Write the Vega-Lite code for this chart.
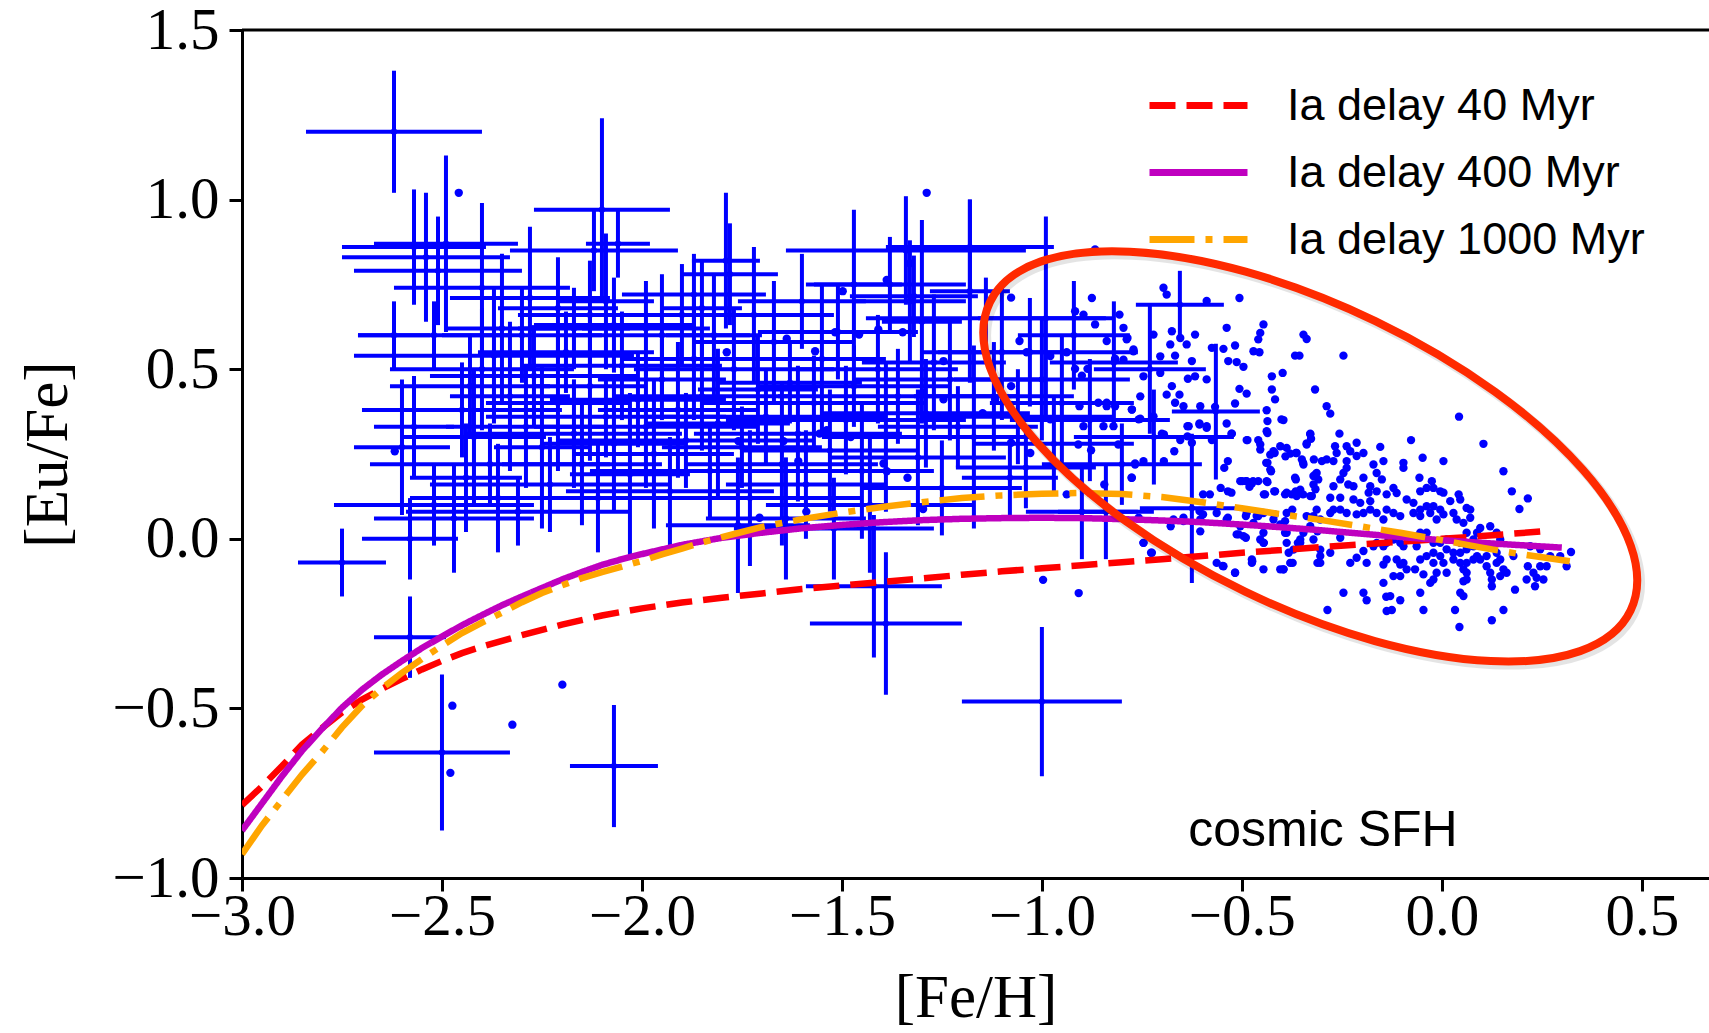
{
"$schema": "https://vega.github.io/schema/vega-lite/v6.json",
"width": 1467, "height": 848,
"autosize": {"type": "none"},
"padding": {"left": 242, "top": 30, "right": 0, "bottom": 155},
"background": "white",
"config": {
 "view": {"stroke": null},
 "axis": {"labelFont": "Liberation Serif", "labelFontSize": 59, "labelColor": "black", "tickColor": "black", "tickSize": 13, "tickWidth": 3, "domainColor": "black", "domainWidth": 3, "grid": false, "titleFont": "Liberation Serif", "titleFontSize": 61, "titleFontWeight": "normal", "titleColor": "black", "labelFlush": false, "labelOverlap": false, "labelBound": false}
},
"datasets": {
"stars": [
{"x":-2.62,"y":1.20,"ex":0.22,"ey":0.18},{"x":-2.10,"y":0.97,"ex":0.17,"ey":0.27},{"x":-2.75,"y":-0.07,"ex":0.11,"ey":0.10},{"x":-2.50,"y":-0.63,"ex":0.17,"ey":0.23},{"x":-2.07,"y":-0.67,"ex":0.11,"ey":0.18},{"x":-2.58,"y":-0.29,"ex":0.09,"ey":0.12},{"x":-1.39,"y":-0.25,"ex":0.19,"ey":0.21},{"x":-1.42,"y":-0.14,"ex":0.17,"ey":0.21},{"x":-1.00,"y":-0.48,"ex":0.20,"ey":0.22},
{"x":-2.57,"y":0.86,"ex":0.18,"ey":0.17},{"x":-2.54,"y":0.83,"ex":0.21,"ey":0.19},{"x":-2.51,"y":0.79,"ex":0.21,"ey":0.16},{"x":-2.49,"y":0.87,"ex":0.18,"ey":0.26},{"x":-2.40,"y":0.74,"ex":0.22,"ey":0.25},{"x":-2.12,"y":0.85,"ex":0.21,"ey":0.12},{"x":-2.06,"y":0.87,"ex":0.08,"ey":0.10},{"x":-2.62,"y":0.60,"ex":0.09,"ey":0.10},{"x":-2.37,"y":0.54,"ex":0.35,"ey":0.20},{"x":-2.40,"y":0.50,"ex":0.23,"ey":0.18},{"x":-2.57,"y":0.33,"ex":0.10,"ey":0.15},{"x":-2.28,"y":0.71,"ex":0.20,"ey":0.21},{"x":-2.21,"y":0.68,"ex":0.15,"ey":0.15},{"x":-2.17,"y":0.62,"ex":0.14,"ey":0.12},{"x":-2.13,"y":0.66,"ex":0.18,"ey":0.16},{"x":-2.09,"y":0.70,"ex":0.12,"ey":0.20},{"x":-2.07,"y":0.63,"ex":0.20,"ey":0.14},{"x":-1.99,"y":0.62,"ex":0.16,"ey":0.14},{"x":-1.95,"y":0.60,"ex":0.22,"ey":0.18},{"x":-1.90,"y":0.66,"ex":0.14,"ey":0.15},{"x":-1.87,"y":0.72,"ex":0.18,"ey":0.12},{"x":-1.85,"y":0.68,"ex":0.10,"ey":0.14},
{"x":-2.45,"y":0.38,"ex":0.25,"ey":0.14},{"x":-2.42,"y":0.30,"ex":0.18,"ey":0.20},{"x":-2.38,"y":0.22,"ex":0.30,"ey":0.12},{"x":-2.36,"y":0.12,"ex":0.22,"ey":0.16},{"x":-2.33,"y":0.42,"ex":0.15,"ey":0.22},{"x":-2.31,"y":0.08,"ex":0.28,"ey":0.10},{"x":-2.29,"y":0.33,"ex":0.20,"ey":0.18},{"x":-2.27,"y":0.48,"ex":0.26,"ey":0.15},{"x":-2.25,"y":0.27,"ex":0.12,"ey":0.24},{"x":-2.23,"y":0.16,"ex":0.30,"ey":0.14},{"x":-2.21,"y":0.40,"ex":0.18,"ey":0.20},{"x":-2.19,"y":0.55,"ex":0.22,"ey":0.12},{"x":-2.17,"y":0.31,"ex":0.27,"ey":0.16},{"x":-2.15,"y":0.22,"ex":0.20,"ey":0.18},{"x":-2.13,"y":0.45,"ex":0.14,"ey":0.22},{"x":-2.11,"y":0.12,"ex":0.24,"ey":0.16},{"x":-2.09,"y":0.36,"ex":0.30,"ey":0.12},{"x":-2.07,"y":0.28,"ex":0.18,"ey":0.20},{"x":-2.05,"y":0.51,"ex":0.25,"ey":0.16},{"x":-2.03,"y":0.19,"ex":0.15,"ey":0.24},{"x":-2.01,"y":0.41,"ex":0.22,"ey":0.14},{"x":-1.99,"y":0.33,"ex":0.28,"ey":0.18},{"x":-1.97,"y":0.25,"ex":0.20,"ey":0.22},{"x":-1.95,"y":0.47,"ex":0.16,"ey":0.12},{"x":-1.93,"y":0.14,"ex":0.26,"ey":0.16},{"x":-1.91,"y":0.38,"ex":0.20,"ey":0.20},{"x":-1.89,"y":0.29,"ex":0.32,"ey":0.14},{"x":-1.87,"y":0.53,"ex":0.18,"ey":0.18},{"x":-2.30,"y":0.60,"ex":0.20,"ey":0.14},{"x":-2.44,"y":0.18,"ex":0.14,"ey":0.16},{"x":-2.52,"y":0.10,"ex":0.25,"ey":0.12},{"x":-2.58,"y":0.00,"ex":0.12,"ey":0.12},{"x":-2.52,"y":0.60,"ex":0.19,"ey":0.10},{"x":-2.43,"y":0.45,"ex":0.20,"ey":0.15},{"x":-2.60,"y":0.27,"ex":0.12,"ey":0.20},{"x":-2.47,"y":0.06,"ex":0.20,"ey":0.16},{"x":-2.35,"y":0.62,"ex":0.14,"ey":0.22},
{"x":-1.85,"y":0.42,"ex":0.22,"ey":0.16},{"x":-1.83,"y":0.20,"ex":0.30,"ey":0.14},{"x":-1.81,"y":0.34,"ex":0.18,"ey":0.22},{"x":-1.79,"y":0.82,"ex":0.085,"ey":0.20},{"x":-1.78,"y":0.78,"ex":0.12,"ey":0.15},{"x":-1.77,"y":0.50,"ex":0.25,"ey":0.18},{"x":-1.75,"y":0.27,"ex":0.20,"ey":0.12},{"x":-1.73,"y":0.12,"ex":0.28,"ey":0.20},{"x":-1.71,"y":0.44,"ex":0.15,"ey":0.16},{"x":-1.69,"y":0.36,"ex":0.30,"ey":0.14},{"x":-1.67,"y":0.58,"ex":0.20,"ey":0.18},{"x":-1.65,"y":0.22,"ex":0.24,"ey":0.24},{"x":-1.63,"y":0.46,"ex":0.18,"ey":0.12},{"x":-1.61,"y":0.31,"ex":0.26,"ey":0.20},{"x":-1.59,"y":0.16,"ex":0.20,"ey":0.16},{"x":-1.57,"y":0.40,"ex":0.28,"ey":0.14},{"x":-1.55,"y":0.53,"ex":0.16,"ey":0.22},{"x":-1.53,"y":0.26,"ex":0.22,"ey":0.18},{"x":-1.51,"y":0.61,"ex":0.20,"ey":0.14},{"x":-1.49,"y":0.35,"ex":0.30,"ey":0.16},{"x":-1.47,"y":0.75,"ex":0.12,"ey":0.22},{"x":-1.47,"y":0.45,"ex":0.24,"ey":0.12},{"x":-1.45,"y":0.20,"ex":0.18,"ey":0.20},{"x":-1.43,"y":0.10,"ex":0.26,"ey":0.20},{"x":-1.41,"y":0.50,"ex":0.20,"ey":0.16},{"x":-1.39,"y":0.30,"ex":0.16,"ey":0.22},{"x":-1.38,"y":0.75,"ex":0.19,"ey":0.14},{"x":-1.36,"y":0.42,"ex":0.30,"ey":0.14},{"x":-1.34,"y":0.85,"ex":0.30,"ey":0.16},{"x":-1.33,"y":0.70,"ex":0.14,"ey":0.18},{"x":-1.32,"y":0.715,"ex":0.16,"ey":0.12},{"x":-1.31,"y":0.24,"ex":0.22,"ey":0.20},{"x":-1.30,"y":0.64,"ex":0.10,"ey":0.30},{"x":-1.29,"y":0.37,"ex":0.26,"ey":0.16},{"x":-1.27,"y":0.52,"ex":0.18,"ey":0.20},{"x":-1.25,"y":0.15,"ex":0.20,"ey":0.14},{"x":-1.23,"y":0.47,"ex":0.24,"ey":0.18},{"x":-1.21,"y":0.33,"ex":0.20,"ey":0.12},{"x":-1.82,"y":0.60,"ex":0.12,"ey":0.18},{"x":-1.72,"y":0.66,"ex":0.20,"ey":0.20},{"x":-1.60,"y":0.70,"ex":0.16,"ey":0.14},{"x":-1.64,"y":0.06,"ex":0.20,"ey":0.18},{"x":-1.52,"y":0.03,"ex":0.25,"ey":0.15},{"x":-1.76,"y":0.04,"ex":0.18,"ey":0.20},
{"x":-1.18,"y":0.86,"ex":0.21,"ey":0.14},{"x":-1.18,"y":0.73,"ex":0.10,"ey":0.27},{"x":-1.17,"y":0.30,"ex":0.15,"ey":0.27},{"x":-1.14,"y":0.65,"ex":0.30,"ey":0.12},{"x":-1.12,"y":0.42,"ex":0.20,"ey":0.16},{"x":-1.10,"y":0.55,"ex":0.16,"ey":0.20},{"x":-1.08,"y":0.18,"ex":0.12,"ey":0.11},{"x":-1.06,"y":0.36,"ex":0.24,"ey":0.14},{"x":-1.03,"y":0.55,"ex":0.27,"ey":0.16},{"x":-1.04,"y":0.21,"ex":0.175,"ey":0.12},{"x":-1.00,"y":0.47,"ex":0.22,"ey":0.18},{"x":-0.99,"y":0.65,"ex":0.17,"ey":0.30},{"x":-0.97,"y":0.28,"ex":0.20,"ey":0.14},{"x":-0.95,"y":0.40,"ex":0.18,"ey":0.20},{"x":-0.92,"y":0.60,"ex":0.14,"ey":0.16},{"x":-0.90,"y":0.08,"ex":0.14,"ey":0.14},{"x":-0.88,"y":0.35,"ex":0.20,"ey":0.18},{"x":-0.84,"y":0.08,"ex":0.12,"ey":0.14},{"x":-0.82,"y":0.52,"ex":0.16,"ey":0.18},{"x":-0.80,"y":0.22,"ex":0.20,"ey":0.12},{"x":-0.73,"y":0.50,"ex":0.14,"ey":0.19},{"x":-0.72,"y":0.30,"ex":0.20,"ey":0.14},{"x":-0.655,"y":0.69,"ex":0.11,"ey":0.10},{"x":-0.565,"y":0.375,"ex":0.11,"ey":0.20},{"x":-0.625,"y":0.09,"ex":0.13,"ey":0.22}
],
"dots": [
{"x":-2.458,"y":1.020},{"x":-1.288,"y":1.020},{"x":-2.474,"y":-0.492},{"x":-2.479,"y":-0.690},{"x":-2.324,"y":-0.548},{"x":-2.199,"y":-0.430},{"x":-0.997,"y":-0.121},{"x":-0.908,"y":-0.160},{"x":-1.589,"y":0.080},{"x":-1.297,"y":0.088},{"x":-2.618,"y":0.258},{"x":-1.148,"y":0.370},{"x":-1.298,"y":0.430},{"x":-1.246,"y":0.411},{"x":-1.556,"y":0.310},{"x":-1.538,"y":0.320},{"x":-1.396,"y":0.222},{"x":-1.388,"y":0.199},{"x":-1.336,"y":0.180},{"x":-1.706,"y":0.062},{"x":-1.246,"y":0.524},{"x":-1.330,"y":0.812},{"x":-1.388,"y":0.763},{"x":-1.498,"y":0.730},{"x":-1.517,"y":0.609},{"x":-1.457,"y":0.602},{"x":-1.409,"y":0.617},{"x":-1.348,"y":0.609},{"x":-1.567,"y":0.553},{"x":-1.638,"y":0.590},{"x":-1.788,"y":0.550},{"x":-1.609,"y":0.229},{"x":-1.646,"y":0.288},{"x":-1.759,"y":0.288},{"x":-1.478,"y":0.300},
{"x":-0.867,"y":0.853},{"x":-1.077,"y":0.711},{"x":-0.875,"y":0.710},{"x":-0.917,"y":0.671},{"x":-0.896,"y":0.661},{"x":-0.867,"y":0.632},{"x":-1.056,"y":0.583},{"x":-0.788,"y":0.588},{"x":-0.771,"y":0.553},{"x":-0.938,"y":0.550},{"x":-1.038,"y":0.550},{"x":-0.979,"y":0.539},{"x":-0.817,"y":0.531},{"x":-0.886,"y":0.501},{"x":-0.917,"y":0.501},{"x":-0.900,"y":0.481},{"x":-1.077,"y":0.450},{"x":-1.117,"y":0.411},{"x":-0.859,"y":0.401},{"x":-0.838,"y":0.401},{"x":-0.817,"y":0.391},{"x":-0.775,"y":0.381},{"x":-0.906,"y":0.391},{"x":-0.758,"y":0.352},{"x":-0.979,"y":0.352},{"x":-0.896,"y":0.332},{"x":-0.846,"y":0.332},{"x":-0.821,"y":0.332},{"x":-0.809,"y":0.278},{"x":-0.909,"y":0.278},{"x":-0.877,"y":0.261},{"x":-1.029,"y":0.253},{"x":-1.077,"y":0.283},{"x":-0.767,"y":0.222},{"x":-0.775,"y":0.180},{"x":-0.938,"y":0.131},{"x":-0.844,"y":0.160},
{"x":-0.696,"y":0.740},{"x":-0.688,"y":0.720},{"x":-0.588,"y":0.701},{"x":-0.506,"y":0.710},{"x":-0.806,"y":0.661},{"x":-0.796,"y":0.622},{"x":-0.786,"y":0.592},{"x":-0.675,"y":0.612},{"x":-0.617,"y":0.602},{"x":-0.538,"y":0.622},{"x":-0.446,"y":0.632},{"x":-0.454,"y":0.607},{"x":-0.459,"y":0.588},{"x":-0.346,"y":0.602},{"x":-0.338,"y":0.589},{"x":-0.838,"y":0.583},{"x":-0.771,"y":0.558},{"x":-0.721,"y":0.602},{"x":-0.654,"y":0.592},{"x":-0.638,"y":0.573},{"x":-0.679,"y":0.573},{"x":-0.575,"y":0.563},{"x":-0.546,"y":0.560},{"x":-0.517,"y":0.570},{"x":-0.471,"y":0.553},{"x":-0.456,"y":0.550},{"x":-0.367,"y":0.540},{"x":-0.356,"y":0.540},{"x":-0.246,"y":0.540},{"x":-0.817,"y":0.528},{"x":-0.796,"y":0.528},{"x":-0.704,"y":0.538},{"x":-0.667,"y":0.540},{"x":-0.625,"y":0.524},{"x":-0.534,"y":0.524},{"x":-0.513,"y":0.521},{"x":-0.496,"y":0.507},{"x":-0.425,"y":0.479},{"x":-0.398,"y":0.489},{"x":-0.746,"y":0.479},{"x":-0.704,"y":0.489},{"x":-0.635,"y":0.472},{"x":-0.617,"y":0.479},{"x":-0.588,"y":0.470},{"x":-0.675,"y":0.450},{"x":-0.506,"y":0.442},{"x":-0.488,"y":0.428},{"x":-0.425,"y":0.440},{"x":-0.317,"y":0.440},{"x":-0.754,"y":0.420},{"x":-0.688,"y":0.425},{"x":-0.656,"y":0.425},{"x":-0.646,"y":0.391},{"x":-0.604,"y":0.391},{"x":-0.567,"y":0.389},{"x":-0.517,"y":0.399},{"x":-0.417,"y":0.411},{"x":-0.288,"y":0.391},{"x":-0.279,"y":0.369},{"x":-0.438,"y":0.379},{"x":0.043,"y":0.360},{"x":-0.838,"y":0.391},{"x":-0.775,"y":0.381},{"x":-0.754,"y":0.354},{"x":-0.721,"y":0.361},{"x":-0.667,"y":0.401},{"x":-0.538,"y":0.340},{"x":-0.606,"y":0.340},{"x":-0.588,"y":0.332},{"x":-0.636,"y":0.332},{"x":-0.396,"y":0.350},{"x":-0.436,"y":0.347},{"x":-0.438,"y":0.317},{"x":-0.525,"y":0.310},{"x":-0.700,"y":0.310},{"x":-0.636,"y":0.302},{"x":-0.625,"y":0.283},{"x":-0.654,"y":0.291},{"x":-0.575,"y":0.291},{"x":-0.488,"y":0.291},{"x":-0.459,"y":0.291},{"x":-0.454,"y":0.278},{"x":-0.329,"y":0.310},{"x":-0.327,"y":0.295},{"x":-0.256,"y":0.310},{"x":-0.077,"y":0.291},{"x":-0.338,"y":0.281},{"x":-0.404,"y":0.273},{"x":-0.388,"y":0.268},{"x":-0.363,"y":0.253},{"x":-0.379,"y":0.251},{"x":-0.350,"y":0.234},{"x":-0.346,"y":0.219},{"x":-0.421,"y":0.258},{"x":-0.429,"y":0.248},{"x":-0.439,"y":0.224},{"x":-0.429,"y":0.204},{"x":-0.504,"y":0.170},{"x":-0.488,"y":0.170},{"x":-0.459,"y":0.170},{"x":-0.438,"y":0.170},{"x":-0.475,"y":0.163},{"x":-0.481,"y":0.153},{"x":-0.442,"y":0.131},{"x":-0.417,"y":0.140},{"x":-0.388,"y":0.136},{"x":-0.375,"y":0.131},{"x":-0.363,"y":0.126},{"x":-0.354,"y":0.145},{"x":-0.367,"y":0.180},{"x":-0.321,"y":0.185},{"x":-0.313,"y":0.194},{"x":-0.309,"y":0.175},{"x":-0.321,"y":0.160},{"x":-0.325,"y":0.126},{"x":-0.300,"y":0.229},{"x":-0.288,"y":0.234},{"x":-0.271,"y":0.229},{"x":-0.263,"y":0.253},{"x":-0.267,"y":0.273},{"x":-0.238,"y":0.273},{"x":-0.238,"y":0.229},{"x":-0.229,"y":0.258},{"x":-0.213,"y":0.283},{"x":-0.196,"y":0.253},{"x":-0.213,"y":0.244},{"x":-0.154,"y":0.271},{"x":-0.146,"y":0.229},{"x":-0.171,"y":0.219},{"x":-0.163,"y":0.194},{"x":-0.150,"y":0.175},{"x":-0.238,"y":0.209},{"x":-0.246,"y":0.194},{"x":-0.254,"y":0.175},{"x":-0.234,"y":0.160},{"x":-0.221,"y":0.155},{"x":-0.196,"y":0.180},{"x":-0.179,"y":0.155},{"x":-0.183,"y":0.136},{"x":-0.271,"y":0.155},{"x":-0.279,"y":0.121},{"x":-0.254,"y":0.121},{"x":-0.221,"y":0.116},{"x":-0.204,"y":0.106},{"x":-0.179,"y":0.111},{"x":-0.163,"y":0.140},{"x":-0.138,"y":0.131},{"x":-0.121,"y":0.150},{"x":-0.113,"y":0.135},{"x":-0.096,"y":0.224},{"x":-0.096,"y":0.209},{"x":-0.048,"y":0.239},{"x":0.004,"y":0.229},{"x":-0.056,"y":0.180},{"x":-0.025,"y":0.170},{"x":-0.038,"y":0.150},{"x":-0.021,"y":0.150},{"x":-0.004,"y":0.140},{"x":0.004,"y":0.136},{"x":-0.054,"y":0.140},{"x":-0.088,"y":0.116},{"x":-0.071,"y":0.106},{"x":-0.054,"y":0.086},{"x":-0.038,"y":0.096},{"x":-0.021,"y":0.096},{"x":-0.004,"y":0.086},{"x":0.021,"y":0.111},{"x":0.042,"y":0.131},{"x":0.046,"y":0.116},{"x":0.062,"y":0.091},{"x":0.071,"y":0.086},{"x":0.104,"y":0.280},{"x":0.154,"y":0.199},{"x":0.175,"y":0.140},{"x":0.215,"y":0.119},{"x":0.194,"y":0.088},{"x":-0.071,"y":0.076},{"x":-0.054,"y":0.067},{"x":-0.029,"y":0.076},{"x":-0.013,"y":0.057},{"x":0.004,"y":0.072},{"x":0.029,"y":0.076},{"x":0.037,"y":0.057},{"x":0.054,"y":0.047},{"x":0.071,"y":0.062},{"x":-0.104,"y":0.067},{"x":-0.121,"y":0.076},{"x":-0.138,"y":0.086},{"x":-0.146,"y":0.057},{"x":-0.163,"y":0.076},{"x":-0.179,"y":0.086},{"x":-0.196,"y":0.076},{"x":-0.213,"y":0.072},{"x":-0.238,"y":0.076},{"x":-0.254,"y":0.086},{"x":-0.271,"y":0.086},{"x":-0.279,"y":0.076},{"x":-0.313,"y":0.086},{"x":-0.321,"y":0.067},{"x":-0.304,"y":0.057},{"x":-0.329,"y":0.037},{"x":-0.346,"y":0.018},{"x":-0.354,"y":-0.002},{"x":-0.388,"y":0.018},{"x":-0.404,"y":0.042},{"x":-0.421,"y":0.057},{"x":-0.388,"y":0.076},{"x":-0.446,"y":0.076},{"x":-0.459,"y":0.067},{"x":-0.488,"y":0.076},{"x":-0.471,"y":0.047},{"x":-0.504,"y":0.037},{"x":-0.446,"y":0.018},{"x":-0.454,"y":-0.002},{"x":-0.496,"y":0.008},{"x":-0.513,"y":0.013},{"x":-0.538,"y":0.057},{"x":-0.563,"y":0.076},{"x":-0.604,"y":0.057},{"x":-0.604,"y":0.022},{"x":-0.646,"y":0.052},{"x":-0.671,"y":0.057},{"x":-0.746,"y":-0.012},{"x":-0.725,"y":-0.041},{"x":-0.563,"y":-0.071},{"x":-0.546,"y":-0.081},{"x":-0.517,"y":-0.100},{"x":-0.475,"y":-0.061},{"x":-0.475,"y":-0.071},{"x":-0.446,"y":-0.012},{"x":-0.388,"y":-0.012},{"x":-0.379,"y":-0.071},{"x":-0.396,"y":-0.090},{"x":-0.354,"y":-0.012},{"x":-0.321,"y":-0.002},{"x":-0.304,"y":-0.051},{"x":-0.304,"y":-0.071},{"x":-0.279,"y":-0.041},{"x":-0.254,"y":0.003},{"x":-0.229,"y":-0.071},{"x":-0.213,"y":-0.056},{"x":-0.188,"y":-0.071},{"x":-0.196,"y":-0.036},{"x":-0.171,"y":-0.022},{"x":-0.163,"y":-0.012},{"x":-0.146,"y":-0.022},{"x":-0.138,"y":-0.012},{"x":-0.121,"y":-0.002},{"x":-0.104,"y":-0.012},{"x":-0.096,"y":-0.022},{"x":-0.113,"y":-0.061},{"x":-0.104,"y":-0.076},{"x":-0.096,"y":-0.071},{"x":-0.138,"y":-0.061},{"x":-0.146,"y":-0.076},{"x":-0.121,"y":-0.110},{"x":-0.104,"y":-0.110},{"x":-0.146,"y":-0.130},{"x":-0.129,"y":-0.169},{"x":-0.104,"y":-0.181},{"x":-0.138,"y":-0.213},{"x":-0.088,"y":-0.090},{"x":-0.067,"y":-0.090},{"x":-0.046,"y":-0.105},{"x":-0.054,"y":-0.061},{"x":-0.038,"y":-0.051},{"x":-0.021,"y":-0.041},{"x":-0.004,"y":-0.051},{"x":0.012,"y":-0.031},{"x":0.029,"y":-0.041},{"x":0.046,"y":-0.041},{"x":0.062,"y":-0.031},{"x":0.079,"y":-0.022},{"x":0.088,"y":-0.051},{"x":0.112,"y":-0.051},{"x":0.129,"y":-0.022},{"x":0.137,"y":-0.041},{"x":0.146,"y":-0.002},{"x":0.137,"y":0.018},{"x":0.121,"y":0.037},{"x":0.096,"y":0.032},{"x":0.088,"y":0.018},{"x":0.079,"y":-0.002},{"x":0.062,"y":0.018},{"x":0.046,"y":-0.012},{"x":0.029,"y":-0.002},{"x":0.012,"y":-0.002},{"x":-0.004,"y":-0.012},{"x":-0.021,"y":-0.012},{"x":-0.038,"y":0.018},{"x":-0.054,"y":0.018},{"x":-0.071,"y":0.008},{"x":-0.063,"y":-0.022},{"x":-0.021,"y":-0.071},{"x":0.004,"y":-0.071},{"x":0.029,"y":-0.061},{"x":0.046,"y":-0.071},{"x":0.062,"y":-0.071},{"x":0.054,"y":-0.090},{"x":0.062,"y":-0.100},{"x":0.062,"y":-0.120},{"x":0.054,"y":-0.125},{"x":0.046,"y":-0.159},{"x":0.054,"y":-0.169},{"x":0.033,"y":-0.210},{"x":0.044,"y":-0.260},{"x":0.012,"y":-0.100},{"x":-0.013,"y":-0.100},{"x":-0.021,"y":-0.120},{"x":-0.029,"y":-0.130},{"x":-0.054,"y":-0.159},{"x":-0.046,"y":-0.210},{"x":0.079,"y":-0.061},{"x":0.096,"y":-0.061},{"x":0.112,"y":-0.081},{"x":0.121,"y":-0.100},{"x":0.125,"y":-0.120},{"x":0.125,"y":-0.140},{"x":0.146,"y":-0.110},{"x":0.154,"y":-0.090},{"x":0.162,"y":-0.100},{"x":0.137,"y":-0.071},{"x":0.146,"y":-0.061},{"x":0.179,"y":-0.051},{"x":0.183,"y":-0.150},{"x":0.154,"y":-0.210},{"x":0.125,"y":-0.240},{"x":0.215,"y":-0.081},{"x":0.212,"y":-0.120},{"x":0.229,"y":-0.100},{"x":0.237,"y":-0.115},{"x":0.233,"y":-0.140},{"x":0.254,"y":-0.120},{"x":0.246,"y":-0.081},{"x":0.262,"y":-0.081},{"x":0.221,"y":-0.022},{"x":0.246,"y":-0.031},{"x":0.271,"y":-0.051},{"x":0.296,"y":-0.051},{"x":0.312,"y":-0.081},{"x":0.323,"y":-0.039},{"x":-0.246,"y":-0.159},{"x":-0.196,"y":-0.159},{"x":-0.188,"y":-0.181},{"x":-0.139,"y":-0.171},{"x":-0.286,"y":-0.210},{"x":-0.125,"y":-0.210},{"x":-0.304,"y":-0.032},{"x":-0.371,"y":-0.032},{"x":-0.404,"y":-0.090},{"x":-0.446,"y":-0.090},
{"x":-0.746,"y":0.229},{"x":-0.767,"y":0.219},{"x":-0.776,"y":0.180},{"x":-0.695,"y":0.229},{"x":-0.695,"y":0.308},{"x":-0.669,"y":0.258},{"x":-0.633,"y":0.332},{"x":-0.606,"y":0.337},{"x":-0.588,"y":0.327},{"x":-0.526,"y":0.310},{"x":-0.486,"y":0.291},{"x":-0.436,"y":0.312},{"x":-0.401,"y":0.352},{"x":-0.329,"y":0.308},{"x":-0.338,"y":0.278},{"x":-0.365,"y":0.253},{"x":-0.347,"y":0.224},{"x":-0.320,"y":0.234},{"x":-0.365,"y":0.175},{"x":-0.436,"y":0.224},{"x":-0.418,"y":0.253},{"x":-0.454,"y":0.263},{"x":-0.391,"y":0.243},{"x":-0.427,"y":0.199},{"x":-0.490,"y":0.170},{"x":-0.472,"y":0.170},{"x":-0.436,"y":0.167},{"x":-0.499,"y":0.170},{"x":-0.535,"y":0.229},{"x":-0.544,"y":0.209},{"x":-0.553,"y":0.150},{"x":-0.535,"y":0.140},{"x":-0.526,"y":0.136},{"x":-0.580,"y":0.131},{"x":-0.597,"y":0.131},{"x":-0.419,"y":0.140},{"x":-0.445,"y":0.131},{"x":-0.392,"y":0.131},{"x":-0.365,"y":0.140},{"x":-0.347,"y":0.131},{"x":-0.329,"y":0.126},{"x":-0.316,"y":0.146},{"x":-0.316,"y":0.190},{"x":-0.338,"y":0.067},{"x":-0.392,"y":0.052},{"x":-0.374,"y":0.086},{"x":-0.418,"y":0.072},{"x":-0.463,"y":0.067},{"x":-0.490,"y":0.067},{"x":-0.535,"y":0.062},{"x":-0.597,"y":0.072},{"x":-0.606,"y":0.082},{"x":-0.646,"y":0.062},{"x":-0.678,"y":0.037},{"x":-0.758,"y":0.062},{"x":-0.508,"y":0.013},{"x":-0.490,"y":0.003},{"x":-0.445,"y":-0.012},{"x":-0.392,"y":0.018},{"x":-0.360,"y":-0.012},{"x":-0.383,"y":-0.041},{"x":-0.396,"y":-0.090},{"x":-0.373,"y":-0.071},{"x":-0.474,"y":-0.066},{"x":-0.548,"y":-0.080},{"x":-0.517,"y":-0.100},{"x":-0.746,"y":-0.012},{"x":-0.727,"y":-0.041},{"x":-0.311,"y":0.022},{"x":-0.311,"y":-0.071}
],
"curves": [
{"model":"Ia delay 40 Myr","x":-3.0,"y":-0.785},{"model":"Ia delay 40 Myr","x":-2.95,"y":-0.73},{"model":"Ia delay 40 Myr","x":-2.9,"y":-0.67},{"model":"Ia delay 40 Myr","x":-2.85,"y":-0.607},{"model":"Ia delay 40 Myr","x":-2.8,"y":-0.558},{"model":"Ia delay 40 Myr","x":-2.75,"y":-0.512},{"model":"Ia delay 40 Myr","x":-2.7,"y":-0.474},{"model":"Ia delay 40 Myr","x":-2.65,"y":-0.442},{"model":"Ia delay 40 Myr","x":-2.6,"y":-0.413},{"model":"Ia delay 40 Myr","x":-2.55,"y":-0.385},{"model":"Ia delay 40 Myr","x":-2.5,"y":-0.36},{"model":"Ia delay 40 Myr","x":-2.45,"y":-0.337},{"model":"Ia delay 40 Myr","x":-2.4,"y":-0.318},{"model":"Ia delay 40 Myr","x":-2.3,"y":-0.284},{"model":"Ia delay 40 Myr","x":-2.2,"y":-0.253},{"model":"Ia delay 40 Myr","x":-2.1,"y":-0.226},{"model":"Ia delay 40 Myr","x":-2.0,"y":-0.205},{"model":"Ia delay 40 Myr","x":-1.9,"y":-0.188},{"model":"Ia delay 40 Myr","x":-1.8,"y":-0.174},{"model":"Ia delay 40 Myr","x":-1.7,"y":-0.161},{"model":"Ia delay 40 Myr","x":-1.6,"y":-0.148},{"model":"Ia delay 40 Myr","x":-1.5,"y":-0.138},{"model":"Ia delay 40 Myr","x":-1.4,"y":-0.127},{"model":"Ia delay 40 Myr","x":-1.3,"y":-0.117},{"model":"Ia delay 40 Myr","x":-1.2,"y":-0.106},{"model":"Ia delay 40 Myr","x":-1.1,"y":-0.096},{"model":"Ia delay 40 Myr","x":-1.0,"y":-0.087},{"model":"Ia delay 40 Myr","x":-0.9,"y":-0.078},{"model":"Ia delay 40 Myr","x":-0.8,"y":-0.069},{"model":"Ia delay 40 Myr","x":-0.7,"y":-0.060},{"model":"Ia delay 40 Myr","x":-0.6,"y":-0.051},{"model":"Ia delay 40 Myr","x":-0.5,"y":-0.041},{"model":"Ia delay 40 Myr","x":-0.4,"y":-0.033},{"model":"Ia delay 40 Myr","x":-0.3,"y":-0.024},{"model":"Ia delay 40 Myr","x":-0.2,"y":-0.016},{"model":"Ia delay 40 Myr","x":-0.1,"y":-0.008},{"model":"Ia delay 40 Myr","x":0.0,"y":0.0},{"model":"Ia delay 40 Myr","x":0.1,"y":0.008},{"model":"Ia delay 40 Myr","x":0.2,"y":0.017},{"model":"Ia delay 40 Myr","x":0.25,"y":0.022},
{"model":"Ia delay 400 Myr","x":-3.0,"y":-0.86},{"model":"Ia delay 400 Myr","x":-2.95,"y":-0.78},{"model":"Ia delay 400 Myr","x":-2.9,"y":-0.70},{"model":"Ia delay 400 Myr","x":-2.85,"y":-0.625},{"model":"Ia delay 400 Myr","x":-2.8,"y":-0.56},{"model":"Ia delay 400 Myr","x":-2.75,"y":-0.498},{"model":"Ia delay 400 Myr","x":-2.7,"y":-0.445},{"model":"Ia delay 400 Myr","x":-2.65,"y":-0.40},{"model":"Ia delay 400 Myr","x":-2.6,"y":-0.36},{"model":"Ia delay 400 Myr","x":-2.55,"y":-0.322},{"model":"Ia delay 400 Myr","x":-2.5,"y":-0.288},{"model":"Ia delay 400 Myr","x":-2.45,"y":-0.255},{"model":"Ia delay 400 Myr","x":-2.4,"y":-0.225},{"model":"Ia delay 400 Myr","x":-2.35,"y":-0.196},{"model":"Ia delay 400 Myr","x":-2.3,"y":-0.170},{"model":"Ia delay 400 Myr","x":-2.25,"y":-0.145},{"model":"Ia delay 400 Myr","x":-2.2,"y":-0.120},{"model":"Ia delay 400 Myr","x":-2.15,"y":-0.098},{"model":"Ia delay 400 Myr","x":-2.1,"y":-0.077},{"model":"Ia delay 400 Myr","x":-2.05,"y":-0.060},{"model":"Ia delay 400 Myr","x":-2.0,"y":-0.045},{"model":"Ia delay 400 Myr","x":-1.9,"y":-0.018},{"model":"Ia delay 400 Myr","x":-1.8,"y":0.003},{"model":"Ia delay 400 Myr","x":-1.7,"y":0.018},{"model":"Ia delay 400 Myr","x":-1.6,"y":0.031},{"model":"Ia delay 400 Myr","x":-1.5,"y":0.041},{"model":"Ia delay 400 Myr","x":-1.4,"y":0.049},{"model":"Ia delay 400 Myr","x":-1.3,"y":0.055},{"model":"Ia delay 400 Myr","x":-1.2,"y":0.059},{"model":"Ia delay 400 Myr","x":-1.1,"y":0.061},{"model":"Ia delay 400 Myr","x":-1.0,"y":0.062},{"model":"Ia delay 400 Myr","x":-0.9,"y":0.061},{"model":"Ia delay 400 Myr","x":-0.8,"y":0.058},{"model":"Ia delay 400 Myr","x":-0.7,"y":0.054},{"model":"Ia delay 400 Myr","x":-0.6,"y":0.049},{"model":"Ia delay 400 Myr","x":-0.5,"y":0.042},{"model":"Ia delay 400 Myr","x":-0.4,"y":0.034},{"model":"Ia delay 400 Myr","x":-0.3,"y":0.025},{"model":"Ia delay 400 Myr","x":-0.2,"y":0.015},{"model":"Ia delay 400 Myr","x":-0.1,"y":0.005},{"model":"Ia delay 400 Myr","x":0.0,"y":-0.004},{"model":"Ia delay 400 Myr","x":0.1,"y":-0.012},{"model":"Ia delay 400 Myr","x":0.2,"y":-0.019},{"model":"Ia delay 400 Myr","x":0.3,"y":-0.026},
{"model":"Ia delay 1000 Myr","x":-3.0,"y":-0.93},{"model":"Ia delay 1000 Myr","x":-2.95,"y":-0.845},{"model":"Ia delay 1000 Myr","x":-2.9,"y":-0.77},{"model":"Ia delay 1000 Myr","x":-2.85,"y":-0.695},{"model":"Ia delay 1000 Myr","x":-2.8,"y":-0.628},{"model":"Ia delay 1000 Myr","x":-2.75,"y":-0.556},{"model":"Ia delay 1000 Myr","x":-2.7,"y":-0.492},{"model":"Ia delay 1000 Myr","x":-2.65,"y":-0.441},{"model":"Ia delay 1000 Myr","x":-2.6,"y":-0.395},{"model":"Ia delay 1000 Myr","x":-2.55,"y":-0.354},{"model":"Ia delay 1000 Myr","x":-2.5,"y":-0.315},{"model":"Ia delay 1000 Myr","x":-2.45,"y":-0.278},{"model":"Ia delay 1000 Myr","x":-2.4,"y":-0.247},{"model":"Ia delay 1000 Myr","x":-2.35,"y":-0.218},{"model":"Ia delay 1000 Myr","x":-2.3,"y":-0.187},{"model":"Ia delay 1000 Myr","x":-2.25,"y":-0.16},{"model":"Ia delay 1000 Myr","x":-2.2,"y":-0.137},{"model":"Ia delay 1000 Myr","x":-2.15,"y":-0.116},{"model":"Ia delay 1000 Myr","x":-2.1,"y":-0.098},{"model":"Ia delay 1000 Myr","x":-2.05,"y":-0.082},{"model":"Ia delay 1000 Myr","x":-2.0,"y":-0.065},{"model":"Ia delay 1000 Myr","x":-1.95,"y":-0.046},{"model":"Ia delay 1000 Myr","x":-1.9,"y":-0.029},{"model":"Ia delay 1000 Myr","x":-1.85,"y":-0.011},{"model":"Ia delay 1000 Myr","x":-1.8,"y":0.005},{"model":"Ia delay 1000 Myr","x":-1.75,"y":0.02},{"model":"Ia delay 1000 Myr","x":-1.7,"y":0.035},{"model":"Ia delay 1000 Myr","x":-1.6,"y":0.058},{"model":"Ia delay 1000 Myr","x":-1.5,"y":0.077},{"model":"Ia delay 1000 Myr","x":-1.4,"y":0.094},{"model":"Ia delay 1000 Myr","x":-1.3,"y":0.108},{"model":"Ia delay 1000 Myr","x":-1.2,"y":0.12},{"model":"Ia delay 1000 Myr","x":-1.1,"y":0.128},{"model":"Ia delay 1000 Myr","x":-1.0,"y":0.133},{"model":"Ia delay 1000 Myr","x":-0.9,"y":0.135},{"model":"Ia delay 1000 Myr","x":-0.8,"y":0.132},{"model":"Ia delay 1000 Myr","x":-0.7,"y":0.123},{"model":"Ia delay 1000 Myr","x":-0.6,"y":0.108},{"model":"Ia delay 1000 Myr","x":-0.5,"y":0.090},{"model":"Ia delay 1000 Myr","x":-0.4,"y":0.072},{"model":"Ia delay 1000 Myr","x":-0.3,"y":0.055},{"model":"Ia delay 1000 Myr","x":-0.2,"y":0.036},{"model":"Ia delay 1000 Myr","x":-0.1,"y":0.017},{"model":"Ia delay 1000 Myr","x":0.0,"y":-0.004},{"model":"Ia delay 1000 Myr","x":0.1,"y":-0.026},{"model":"Ia delay 1000 Myr","x":0.2,"y":-0.046},{"model":"Ia delay 1000 Myr","x":0.32,"y":-0.066}
]
},
"layer": [
{"data": {"name": "stars"},
 "mark": {"type": "errorbar", "thickness": 4, "color": "#0000ff", "rule": {"strokeWidth": 4}},
 "encoding": {
  "x": {"field": "x", "type": "quantitative", "title": "[Fe/H]", "scale": {"domain": [-3, 0.668], "nice": false, "zero": false}, "axis": {"title": "[Fe/H]", "values": [-3, -2.5, -2, -1.5, -1, -0.5, 0, 0.5], "format": ".1f", "labelPadding": -4, "titlePadding": 22}},
  "xError": {"field": "ex"},
  "y": {"field": "y", "type": "quantitative", "title": "[Eu/Fe]", "scale": {"domain": [-1, 1.5], "nice": false, "zero": false}, "axis": {"title": "[Eu/Fe]", "values": [-1, -0.5, 0, 0.5, 1, 1.5], "format": ".1f", "labelPadding": 10, "titlePadding": 32}}
 }},
{"data": {"name": "stars"},
 "mark": {"type": "errorbar", "thickness": 4, "color": "#0000ff", "rule": {"strokeWidth": 4}},
 "encoding": {
  "y": {"field": "y", "type": "quantitative", "title": "[Eu/Fe]"},
  "yError": {"field": "ey"},
  "x": {"field": "x", "type": "quantitative", "title": "[Fe/H]"}
 }},
{"data": {"name": "stars"},
 "mark": {"type": "circle", "size": 40, "color": "#0000ff", "opacity": 1},
 "encoding": {"x": {"field": "x", "type": "quantitative", "title": "[Fe/H]"}, "y": {"field": "y", "type": "quantitative", "title": "[Eu/Fe]"}}},
{"data": {"name": "dots"},
 "mark": {"type": "circle", "size": 70, "color": "#0000ff", "opacity": 1},
 "encoding": {"x": {"field": "x", "type": "quantitative", "title": "[Fe/H]"}, "y": {"field": "y", "type": "quantitative", "title": "[Eu/Fe]"}}},
{"data": {"name": "curves"},
 "mark": {"type": "line", "strokeWidth": 6.5, "clip": true},
 "encoding": {
  "x": {"field": "x", "type": "quantitative", "title": "[Fe/H]"},
  "y": {"field": "y", "type": "quantitative", "title": "[Eu/Fe]"},
  "color": {"field": "model", "type": "nominal", "scale": {"domain": ["Ia delay 40 Myr", "Ia delay 400 Myr", "Ia delay 1000 Myr"], "range": ["#ff0000", "#bf00bf", "#ffa500"]},
   "legend": {"title": null, "orient": "none", "legendX": 904, "legendY": 42, "symbolType": "stroke", "symbolSize": 9604, "symbolStrokeWidth": 7, "labelFont": "Liberation Sans", "labelFontSize": 45, "labelColor": "black", "labelOffset": 36, "rowPadding": 0, "clipHeight": 67, "padding": 0, "labelLimit": 0}},
  "strokeDash": {"field": "model", "type": "nominal", "scale": {"domain": ["Ia delay 40 Myr", "Ia delay 400 Myr", "Ia delay 1000 Myr"], "range": [[26, 11], [1, 0], [45, 11, 7, 11]]},
   "legend": {"title": null, "orient": "none", "legendX": 904, "legendY": 42, "symbolType": "stroke", "symbolSize": 9604, "symbolStrokeWidth": 7, "labelFont": "Liberation Sans", "labelFontSize": 45, "labelColor": "black", "labelOffset": 36, "rowPadding": 0, "clipHeight": 67, "padding": 0, "labelLimit": 0}}
 }},
{"data": {"values": [{}]},
 "mark": {"type": "rule", "color": "black", "strokeWidth": 3},
 "encoding": {"y": {"datum": 1.5, "type": "quantitative"}}},
{"data": {"values": [{}]},
 "mark": {"type": "point", "shape": "M1,0C1,0.2334 0.5523,0.4225 0,0.4225C-0.5523,0.4225 -1,0.2334 -1,0C-1,-0.2334 -0.5523,-0.4225 0,-0.4225C0.5523,-0.4225 1,-0.2334 1,0Z", "size": 505521, "angle": 25.7, "filled": false, "color": "#000000", "stroke": "#000000", "strokeWidth": 10, "opacity": 0.1},
 "encoding": {"x": {"datum": -0.322, "type": "quantitative"}, "y": {"datum": 0.234, "type": "quantitative"}}},
{"data": {"values": [{}]},
 "mark": {"type": "point", "shape": "M1,0C1,0.2334 0.5523,0.4225 0,0.4225C-0.5523,0.4225 -1,0.2334 -1,0C-1,-0.2334 -0.5523,-0.4225 0,-0.4225C0.5523,-0.4225 1,-0.2334 1,0Z", "size": 505521, "angle": 25.7, "filled": false, "color": "#ff2a00", "stroke": "#ff2a00", "strokeWidth": 8, "opacity": 1},
 "encoding": {"x": {"datum": -0.329, "type": "quantitative"}, "y": {"datum": 0.243, "type": "quantitative"}}},
{"data": {"values": [{"label": "cosmic SFH"}]},
 "mark": {"type": "text", "font": "Liberation Sans", "fontSize": 50, "align": "left", "baseline": "alphabetic", "color": "black"},
 "encoding": {"x": {"datum": -0.634, "type": "quantitative"}, "y": {"datum": -0.907, "type": "quantitative"}, "text": {"field": "label"}}}
]
}
